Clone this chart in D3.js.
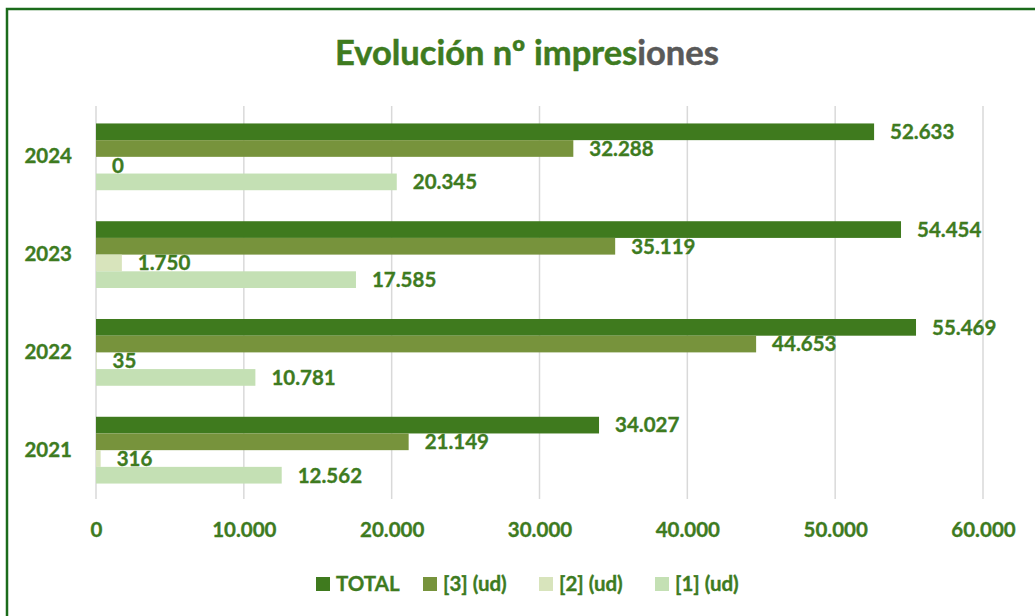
<!DOCTYPE html>
<html>
<head>
<meta charset="utf-8">
<script src="https://cdn.jsdelivr.net/npm/d3@7"></script>
<style>
  html, body { margin: 0; padding: 0; background: #fff; }
  svg { display: block; }
  text { font-family: Lato, "Open Sans", sans-serif; font-weight: bold; }
</style>
</head>
<body>
<script>
const years = ["2024", "2023", "2022", "2021"];
const seriesNames = ["TOTAL", "[3] (ud)", "[2] (ud)", "[1] (ud)"];
const totalValues = [52633, 54454, 55469, 34027];
const s3Values = [32288, 35119, 44653, 21149];
const s2Values = [0, 1750, 35, 316];
const s1Values = [20345, 17585, 10781, 12562];
const xTicks = [0, 10000, 20000, 30000, 40000, 50000, 60000];
const colors = ["#3f7a1e", "#77933c", "#d8e4bc", "#c4e0b4"];

const seriesValues = [totalValues, s3Values, s2Values, s1Values];
const W = 1035, H = 616;
const green = "#3e7b1f";
const fs = 20.5;
const fmt = v => d3.format(",")(v).replace(/,/g, ".");

const svg = d3.select("body").append("svg").attr("width", W).attr("height", H);

// border
svg.append("rect").attr("x", 7).attr("y", 9).attr("width", W + 20).attr("height", H + 20)
  .attr("fill", "none").attr("stroke", "#1b6b1b").attr("stroke-width", 2.5);

// title
const title = svg.append("text").attr("x", 527).attr("y", 65).attr("text-anchor", "middle")
  .attr("font-size", 34.5).attr("stroke-width", 0.5);
title.append("tspan").attr("fill", green).attr("stroke", green).text("Evolución nº impres");
title.append("tspan").attr("fill", "#595959").attr("stroke", "#595959").text("iones");

const x = d3.scaleLinear().domain([0, 60000]).range([96, 983]);
const y = d3.scaleBand().domain(years).range([108, 499]).paddingInner(0.317).paddingOuter(0.158);
const ys = d3.scaleBand().domain(seriesNames).range([0, y.bandwidth()]);

// gridlines
svg.append("g").selectAll("line").data(xTicks).join("line")
  .attr("x1", d => x(d)).attr("x2", d => x(d))
  .attr("y1", 106).attr("y2", 499)
  .attr("stroke", "#d9d9d9").attr("stroke-width", 1.5);

function styleText(sel) {
  sel.attr("fill", green).attr("stroke", green).attr("stroke-width", 0.35)
    .attr("font-size", fs)
    .attr("font-family", "Lato, 'Open Sans', sans-serif").attr("font-weight", "bold");
}

// x axis labels
const xAxis = d3.axisBottom(x).tickValues(xTicks).tickFormat(fmt).tickSize(0).tickPadding(0);
const gx = svg.append("g").attr("transform", "translate(0,522)").call(xAxis);
gx.select(".domain").remove();
gx.selectAll("text").call(styleText);

// y axis labels
const yAxis = d3.axisLeft(y).tickSize(0).tickPadding(0);
const gy = svg.append("g").attr("transform", "translate(72,0)").call(yAxis);
gy.select(".domain").remove();
gy.selectAll("text").call(styleText);

// bars
const flat = [];
years.forEach((yr, i) => seriesNames.forEach((s, j) => flat.push({ yr, s, j, v: seriesValues[j][i] })));

svg.append("g").selectAll("rect").data(flat).join("rect")
  .attr("x", x(0))
  .attr("y", d => y(d.yr) + ys(d.s))
  .attr("width", d => x(d.v) - x(0))
  .attr("height", ys.bandwidth())
  .attr("fill", d => colors[d.j]);

svg.append("g").selectAll("text").data(flat).join("text")
  .attr("x", d => x(d.v) + 16)
  .attr("y", d => y(d.yr) + ys(d.s) + ys.bandwidth() / 2)
  .attr("dy", "0.36em")
  .call(styleText)
  .text(d => fmt(d.v));

// legend
const legendX = [316, 423, 539, 655];
const lg = svg.append("g").selectAll("g").data(seriesNames).join("g")
  .attr("transform", (d, i) => `translate(${legendX[i]},577)`);
lg.append("rect").attr("width", 14).attr("height", 14).attr("fill", (d, i) => colors[i]);
lg.append("text").attr("x", 20).attr("y", 7).attr("dy", "0.36em")
  .call(styleText).text(d => d);
</script>
</body>
</html>
